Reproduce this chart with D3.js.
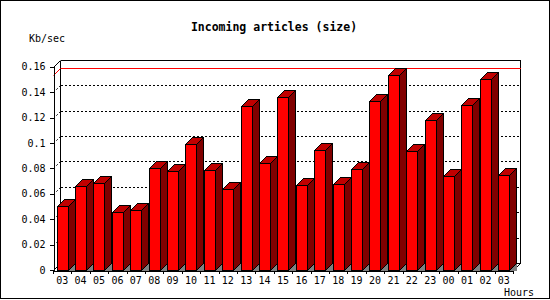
<!DOCTYPE html>
<html>
<head>
<meta charset="utf-8">
<script src="https://cdn.jsdelivr.net/npm/d3@7"></script>
<style>
  body { margin: 0; background: #fff; }
  svg { display: block; }
  text { font-family: "DejaVu Sans Mono", monospace; fill: #000; }
</style>
</head>
<body>
<div class="chart"></div>
<script>
// DATA ------------------------------------
const hours = ['03', '04', '05', '06', '07', '08', '09', '10', '11', '12', '13', '14', '15',
  '16', '17', '18', '19', '20', '21', '22', '23', '00', '01', '02', '03 '];
const sizes = [0.0504, 0.0661, 0.0685, 0.0454, 0.047, 0.0803, 0.0779, 0.0989, 0.0784, 0.0635,
  0.1288, 0.084, 0.1359, 0.0669, 0.0944, 0.0674, 0.0792, 0.133, 0.1533, 0.0934, 0.1178,
  0.0737, 0.1296, 0.1501, 0.0745];
const yTicks = [0, 0.02, 0.04, 0.06, 0.08, 0.1, 0.12, 0.14, 0.16];

const data = hours.map((h, i) => ({ hour: h, value: sizes[i] }));

// CHART INIT ------------------------------
const W = 550, H = 300;
const depth = 7;
const plotL = 53, plotR = 513, plotB = 270, plotT = 66.7;

const svg = d3.select('.chart').append('svg')
  .attr('width', W).attr('height', H)
  .attr('shape-rendering', 'crispEdges');

// outer frame
svg.append('rect')
  .attr('x', 0.5).attr('y', 0.5).attr('width', 549).attr('height', 298)
  .attr('fill', 'none').attr('stroke', '#000');

const xScale = d3.scaleBand().domain(hours).range([plotL, plotR]);
const yScale = d3.scaleLinear().domain([0, 0.16]).range([plotB, plotT]);

const g = svg.append('g');

// back wall grid (shifted by depth)
yTicks.forEach((t) => {
  const yf = Math.round(yScale(t)) + 0.5;
  const yb = yf - depth;
  const solid = t === 0.16 || t === 0;
  g.append('line')
    .attr('x1', plotL + depth + 0.5).attr('x2', plotR + depth + 0.5)
    .attr('y1', yb).attr('y2', yb)
    .attr('stroke', '#000')
    .attr('stroke-dasharray', solid ? null : '2,2');
  g.append('line')
    .attr('x1', plotL + 0.5).attr('y1', yf)
    .attr('x2', plotL + depth + 0.5).attr('y2', yb)
    .attr('stroke', '#000')
    .attr('shape-rendering', 'auto')
    .attr('stroke-dasharray', solid ? null : '2,2');
});

// back wall edges
g.append('line')
  .attr('x1', plotL + depth + 0.5).attr('x2', plotL + depth + 0.5)
  .attr('y1', Math.round(yScale(0.16)) + 0.5 - depth).attr('y2', plotB + 0.5 - depth)
  .attr('stroke', '#000');
g.append('line')
  .attr('x1', plotR + depth + 0.5).attr('x2', plotR + depth + 0.5)
  .attr('y1', Math.round(yScale(0.16)) + 0.5 - depth).attr('y2', plotB + 0.5 - depth)
  .attr('stroke', '#000');
g.append('line')
  .attr('x1', plotR + 0.5).attr('y1', plotB + 0.5)
  .attr('x2', plotR + depth + 0.5).attr('y2', plotB + 0.5 - depth)
  .attr('stroke', '#000').attr('shape-rendering', 'auto');

// max line
const maxV = d3.max(sizes);
const yMax = Math.round(yScale(maxV)) + 0.5;
g.append('line')
  .attr('x1', plotL + depth + 0.5).attr('x2', plotR + depth + 0.5)
  .attr('y1', yMax - depth).attr('y2', yMax - depth)
  .attr('stroke', '#ff0000');
g.append('line')
  .attr('x1', plotL + 0.5).attr('y1', yMax)
  .attr('x2', plotL + depth + 0.5).attr('y2', yMax - depth)
  .attr('stroke', '#ff0000').attr('shape-rendering', 'auto');

// BARS ------------------------------------
const bw = xScale.bandwidth();
const bars = g.selectAll('.bar').data(data).enter().append('g').attr('class', 'bar');

bars.each(function (d) {
  const el = d3.select(this);
  const x0 = Math.round(xScale(d.hour) + bw * 0.2) + 0.5;
  const w = Math.round(bw * 0.6);
  const yt = Math.round(yScale(d.value)) + 0.5;
  const yb = plotB + 0.5;
  // shadow on floor
  el.append('polygon')
    .attr('points', [[x0 + w, yb], [x0 + w + depth, yb - depth], [x0 + w + depth, yb]].join(' '))
    .attr('fill', '#808080');
  // side
  el.append('polygon')
    .attr('points', [[x0 + w, yt], [x0 + w + depth, yt - depth], [x0 + w + depth, yb - depth], [x0 + w, yb]].join(' '))
    .attr('fill', '#800000').attr('stroke', '#000');
  // top
  el.append('polygon')
    .attr('points', [[x0, yt], [x0 + depth, yt - depth], [x0 + w + depth, yt - depth], [x0 + w, yt]].join(' '))
    .attr('fill', '#c00000').attr('stroke', '#000');
  // front
  el.append('rect')
    .attr('x', x0).attr('y', yt).attr('width', w).attr('height', yb - yt)
    .attr('fill', '#ff0000').attr('stroke', '#000');
});

// AXES ------------------------------------
const yAxis = d3.axisLeft(yScale)
  .tickValues(yTicks)
  .tickSize(4)
  .tickSizeOuter(0)
  .tickPadding(4)
  .tickFormat((d) => String(+d.toFixed(2)));
const yAxisGroup = svg.append('g')
  .attr('transform', 'translate(' + (plotL + 0.5) + ',0)')
  .call(yAxis);

const xAxis = d3.axisBottom(xScale).tickSize(0).tickSizeOuter(0).tickPadding(6)
  .tickFormat((d) => d.trim());
const xAxisGroup = svg.append('g')
  .attr('transform', 'translate(0,' + (plotB + 0.5) + ')')
  .call(xAxis);

// band-boundary tick marks
const edges = hours.map((h) => xScale(h)).concat([plotR]);
xAxisGroup.selectAll('.edge').data(edges).enter().append('line')
  .attr('class', 'edge')
  .attr('x1', (d) => Math.round(d) + 0.5).attr('x2', (d) => Math.round(d) + 0.5)
  .attr('y1', 0).attr('y2', 3)
  .attr('stroke', '#000');

[yAxisGroup, xAxisGroup].forEach((ax) => {
  ax.attr('font-family', '"DejaVu Sans Mono", monospace').attr('font-size', 10);
  ax.selectAll('path.domain').attr('stroke', '#000');
  ax.selectAll('.tick line').attr('stroke', '#000');
  ax.selectAll('.tick text').attr('fill', '#000');
});

// TITLES ----------------------------------
svg.append('text')
  .attr('x', 274).attr('y', 31)
  .attr('text-anchor', 'middle')
  .attr('font-size', 11.5).attr('font-weight', 'bold')
  .text('Incoming articles (size)');

svg.append('text')
  .attr('x', 29).attr('y', 42)
  .attr('font-size', 10)
  .text('Kb/sec');

svg.append('text')
  .attr('x', 504).attr('y', 296)
  .attr('font-size', 10)
  .text('Hours');
</script>
</body>
</html>
